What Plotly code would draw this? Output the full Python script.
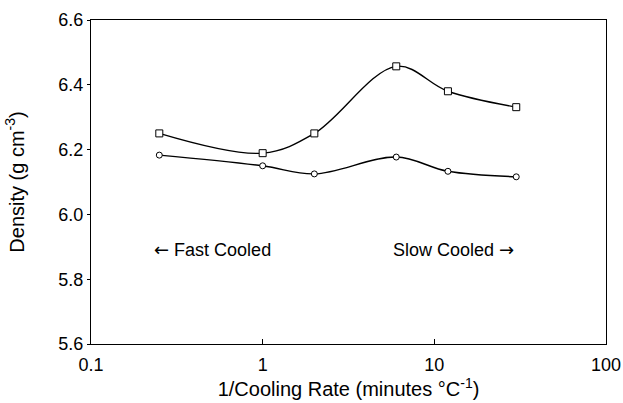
import plotly.graph_objects as go

rate_inv = [0.25, 1, 2, 6, 12, 30]
density_sq = [6.25, 6.189, 6.25, 6.457, 6.38, 6.331]
density_ci = [6.183, 6.15, 6.125, 6.177, 6.133, 6.116]
y_ticks = [5.6, 5.8, 6.0, 6.2, 6.4, 6.6]
x_ticks = [0.1, 1, 10, 100]

FONT = "Liberation Sans, Arial, Helvetica, sans-serif"
ARROW = "font-family:'DejaVu Sans'"

fig = go.Figure()
fig.add_trace(go.Scatter(
    x=rate_inv, y=density_sq, mode="lines+markers",
    line=dict(color="black", width=1.4, shape="spline", smoothing=1.0),
    marker=dict(symbol="square", size=7, color="white", line=dict(color="black", width=1)),
    showlegend=False))
fig.add_trace(go.Scatter(
    x=rate_inv, y=density_ci, mode="lines+markers",
    line=dict(color="black", width=1.4, shape="spline", smoothing=1.0),
    marker=dict(symbol="circle", size=6, color="white", line=dict(color="black", width=1)),
    showlegend=False))

fig.add_annotation(x=-0.645, y=5.893, xref="x", yref="y",
                   text=f"<span style=\"{ARROW}\">\u2190</span> Fast Cooled",
                   showarrow=False, xanchor="left", font=dict(size=18, color="black", family=FONT))
fig.add_annotation(x=1.475, y=5.891, xref="x", yref="y",
                   text=f"Slow Cooled <span style=\"{ARROW}\">\u2192</span>",
                   showarrow=False, xanchor="right", font=dict(size=18, color="black", family=FONT))

fig.update_layout(
    width=623, height=403,
    margin=dict(l=91, r=17, t=20, b=59),
    plot_bgcolor="white", paper_bgcolor="white",
    font=dict(family=FONT, color="black", size=18),
    xaxis=dict(type="log", range=[-1, 2], tickvals=x_ticks, ticktext=["0.1", "1", "10", "100"],
               ticks="inside", ticklen=5, tickcolor="black", showgrid=False, zeroline=False,
               showline=True, linecolor="black", linewidth=1.2, mirror=True, automargin=False,
               ticklabelstandoff=4,
               title=dict(text="1/Cooling Rate (minutes \u00b0C<sup>-1</sup>)", font=dict(size=20), standoff=4),
               tickfont=dict(size=18)),
    yaxis=dict(range=[5.6, 6.6], tickvals=y_ticks, ticktext=[f"{v:.1f}" for v in y_ticks],
               ticks="outside", ticklen=3, tickcolor="black", showgrid=False, zeroline=False,
               showline=True, linecolor="black", linewidth=1.2, mirror=True, automargin=False,
               title=dict(text="Density (g cm<sup>-3</sup>)", font=dict(size=20), standoff=28),
               tickfont=dict(size=18)),
)

fig.write_html("out.html", config={"displayModeBar": False},
               post_script="document.body.style.margin='0';")
